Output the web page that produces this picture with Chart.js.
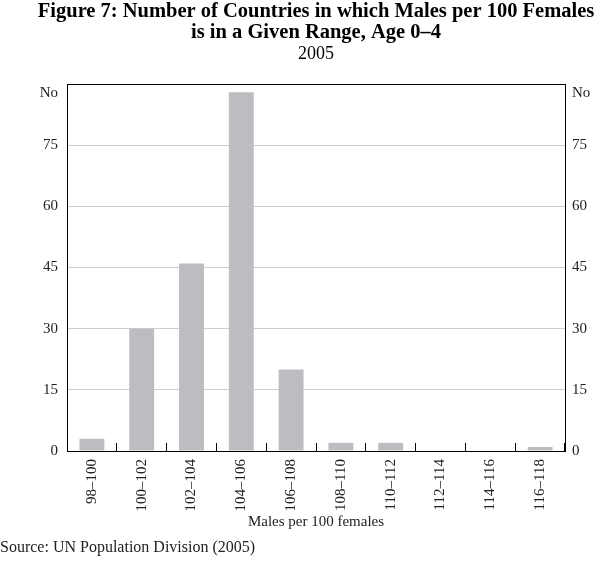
<!DOCTYPE html>
<html>
<head>
<meta charset="utf-8">
<script src="https://cdn.jsdelivr.net/npm/chart.js@4"></script>
<style>
  html, body { margin: 0; padding: 0; background: #fff; }
  #wrap { width: 600px; height: 564px; }
</style>
</head>
<body>
<div id="wrap"><canvas id="myChart" width="600" height="564"></canvas></div>
<script>
// gegevens uit de figuur
const ranges = ["98–100", "100–102", "102–104", "104–106", "106–108",
                "108–110", "110–112", "112–114", "114–116", "116–118"];
const countries = [3, 30, 46, 88, 20, 2, 2, 0, 0, 1];
const yTicks = [0, 15, 30, 45, 60, 75, 90];

const titleLines = ["Figure 7: Number of Countries in which Males per 100 Females",
                    "is in a Given Range, Age 0–4"];
const subTitle = "2005";
const source = "Source: UN Population Division (2005)";

const serif = "'Liberation Serif', 'Times New Roman', serif";
const ink = "#222";

// titel boven het plotgebied (gecentreerd op het plotgebied) en bron onderaan links
const textPlugin = {
  id: "texts",
  afterDraw(chart) {
    const ctx = chart.ctx;
    const cx = (chart.chartArea.left + chart.chartArea.right) / 2;
    ctx.save();
    ctx.textBaseline = "middle";
    ctx.fillStyle = "#000";
    ctx.textAlign = "center";
    ctx.font = "bold 20.5px " + serif;
    ctx.fillText(titleLines[0], cx, 12);
    ctx.fillText(titleLines[1], cx, 33);
    ctx.font = "18px " + serif;
    ctx.fillText(subTitle, cx, 54);
    ctx.fillStyle = ink;
    ctx.textAlign = "left";
    ctx.font = "16px " + serif;
    ctx.fillText(source, 0, 548);
    ctx.restore();
  }
};

function yAxis(pos, width, pad) {
  return {
    type: "linear",
    position: pos,
    min: 0,
    max: 90,
    afterBuildTicks: s => { s.ticks = yTicks.map(v => ({ value: v })); },
    afterFit: s => { s.width = width; },
    ticks: {
      padding: pad,
      color: ink,
      font: { family: serif, size: 15 },
      // "No" staat net onder de bovenrand
      callback: v => v === 90 ? ["", "No"] : v
    },
    grid: {
      drawOnChartArea: pos === "left",
      drawTicks: false,
      color: ctx => ctx.tick && ctx.tick.value === 90 ? "#000" : "#cfcfcf",
      lineWidth: 1
    },
    border: { color: "#000", width: 1 }
  };
}

let ctx = document.getElementById("myChart").getContext("2d");
let myChart = new Chart(ctx, {
  type: "bar",
  data: {
    labels: ranges,
    datasets: [{
      data: countries,
      backgroundColor: "#bcbdc0",
      borderWidth: 0,
      barPercentage: 0.5,
      categoryPercentage: 1.0
    }]
  },
  plugins: [textPlugin],
  options: {
    responsive: false,
    animation: false,
    layout: { padding: { left: 0, right: 0, top: 84, bottom: 28 } },
    plugins: {
      legend: { display: false },
      tooltip: { enabled: false }
    },
    scales: {
      x: {
        afterFit: s => { s.height = 85; },
        ticks: {
          minRotation: 90,
          maxRotation: 90,
          padding: 16,
          color: ink,
          font: { family: serif, size: 15 }
        },
        grid: {
          offset: true,
          drawOnChartArea: false,
          tickLength: -8,
          color: "#000"
        },
        border: { color: "#000", width: 1 },
        title: {
          display: true,
          text: "Males per 100 females",
          color: ink,
          font: { family: serif, size: 15, lineHeight: 1.2 },
          padding: { top: 0, bottom: 5 }
        }
      },
      y: yAxis("left", 67, 9),
      y2: yAxis("right", 35, 7)
    }
  }
});
</script>
</body>
</html>
